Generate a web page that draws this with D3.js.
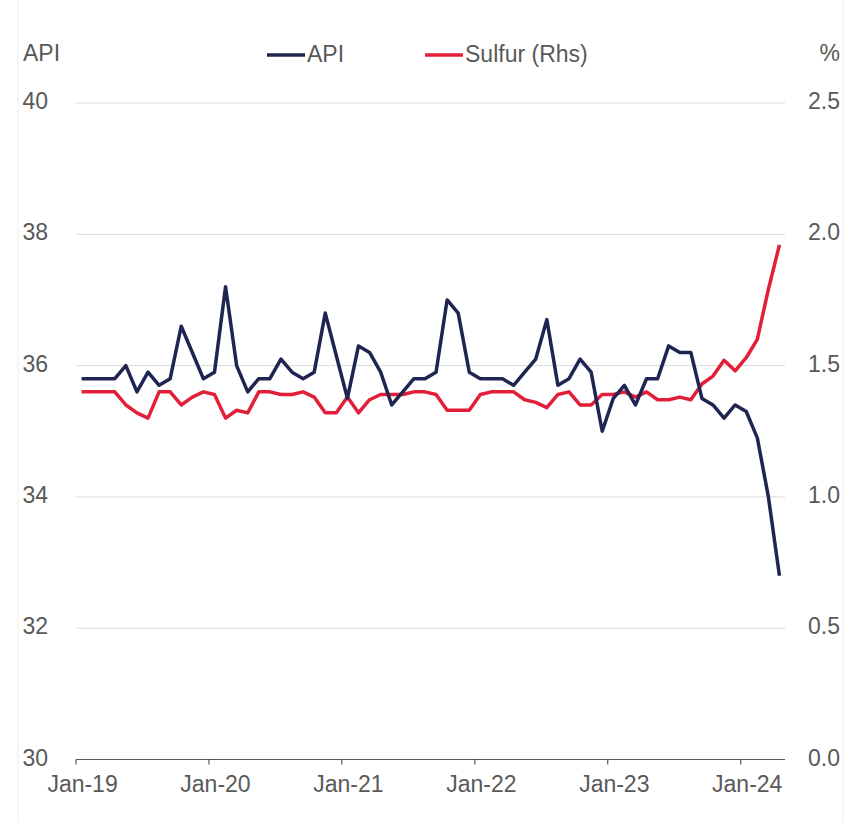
<!DOCTYPE html>
<html>
<head>
<meta charset="utf-8">
<script src="https://cdn.jsdelivr.net/npm/d3@7"></script>
<style>
  body { margin: 0; background: #fff; }
  text { font-family: "Liberation Sans", Arial, sans-serif; fill: #595959; }
</style>
</head>
<body>
<div id="container"></div>
<script>
// Monthly series, Jan-19 .. Apr-24
var startMonth = new Date(2019, 0, 1)
var apiValues = [
  35.8, 35.8, 35.8, 35.8, 36.0, 35.6, 35.9, 35.7, 35.8, 36.6, 36.2, 35.8,
  35.9, 37.2, 36.0, 35.6, 35.8, 35.8, 36.1, 35.9, 35.8, 35.9, 36.8, 36.15,
  35.5, 36.3, 36.2, 35.9, 35.4, 35.6, 35.8, 35.8, 35.9, 37.0, 36.8, 35.9,
  35.8, 35.8, 35.8, 35.7, 35.9, 36.1, 36.7, 35.7, 35.8, 36.1, 35.9, 35.0,
  35.5, 35.7, 35.4, 35.8, 35.8, 36.3, 36.2, 36.2, 35.5, 35.4, 35.2, 35.4,
  35.3, 34.9, 34.0, 32.8
]
var sulfurValues = [
  1.40, 1.40, 1.40, 1.40, 1.35, 1.32, 1.30, 1.40, 1.40, 1.35, 1.38, 1.40,
  1.39, 1.30, 1.33, 1.32, 1.40, 1.40, 1.39, 1.39, 1.40, 1.38, 1.32, 1.32,
  1.38, 1.32, 1.37, 1.39, 1.39, 1.39, 1.40, 1.40, 1.39, 1.33, 1.33, 1.33,
  1.39, 1.40, 1.40, 1.40, 1.37, 1.36, 1.34, 1.39, 1.40, 1.35, 1.35, 1.39,
  1.39, 1.40, 1.38, 1.40, 1.37, 1.37, 1.38, 1.37, 1.43, 1.46, 1.52, 1.48,
  1.53, 1.60, 1.79, 1.96
]
var leftTicks = [30, 32, 34, 36, 38, 40]
var rightTicks = [0.0, 0.5, 1.0, 1.5, 2.0, 2.5]
var seriesNames = ["API", "Sulfur (Rhs)"]
var seriesColors = ["#1f2552", "#e31e38"]

var width = 854, height = 822
var plot = { left: 76, right: 785, top: 103, bottom: 759.5 }

var months = apiValues.map(function(d, i) {
  return d3.timeMonth.offset(startMonth, i)
})
var fmt = d3.timeFormat("%b-%y")

var svg = d3.select("#container")
  .append("svg")
  .attr("width", width)
  .attr("height", height)

// faint frame lines
svg.selectAll(".frame")
  .data([18, 843])
  .enter().append("line")
  .attr("x1", function(d) { return d }).attr("x2", function(d) { return d })
  .attr("y1", 0).attr("y2", height)
  .attr("stroke", "#ececec").attr("stroke-width", 1)

// Escalas
var x = d3.scaleBand()
  .domain(months)
  .range([plot.left, plot.right])

var yLeft = d3.scaleLinear()
  .domain([30, 40])
  .range([plot.bottom, plot.top])

var yRight = d3.scaleLinear()
  .domain([0, 2.5])
  .range([plot.bottom, plot.top])

// gridlines
svg.selectAll(".grid")
  .data(leftTicks.filter(function(d) { return d > 30 }))
  .enter().append("line")
  .attr("x1", plot.left).attr("x2", plot.right)
  .attr("y1", function(d) { return yLeft(d) })
  .attr("y2", function(d) { return yLeft(d) })
  .attr("stroke", "#d9d9d9").attr("stroke-width", 1)

// left labels
svg.selectAll(".left-label")
  .data(leftTicks)
  .enter().append("text")
  .attr("x", 48)
  .attr("y", function(d) { return yLeft(d) + 6 })
  .attr("text-anchor", "end")
  .attr("font-size", 23)
  .text(function(d) { return d })

// right labels
svg.selectAll(".right-label")
  .data(rightTicks)
  .enter().append("text")
  .attr("x", 840)
  .attr("y", function(d) { return yRight(d) + 6 })
  .attr("text-anchor", "end")
  .attr("font-size", 23)
  .text(function(d) { return d.toFixed(1) })

// x axis
var janMonths = months.filter(function(d) { return d.getMonth() === 0 })

svg.append("line")
  .attr("x1", plot.left).attr("x2", plot.right)
  .attr("y1", plot.bottom).attr("y2", plot.bottom)
  .attr("stroke", "#595959").attr("stroke-width", 1.2)

svg.selectAll(".xtick")
  .data(janMonths)
  .enter().append("line")
  .attr("x1", function(d) { return x(d) }).attr("x2", function(d) { return x(d) })
  .attr("y1", plot.bottom).attr("y2", plot.bottom + 5)
  .attr("stroke", "#595959").attr("stroke-width", 1.2)

svg.selectAll(".xlabel")
  .data(janMonths)
  .enter().append("text")
  .attr("x", function(d) { return x(d) + x.bandwidth() / 2 + 1 })
  .attr("y", 792)
  .attr("text-anchor", "middle")
  .attr("font-size", 23)
  .text(function(d) { return fmt(d) })

// linhas
var apiLine = d3.line()
  .x(function(d, i) { return x(months[i]) + x.bandwidth() / 2 })
  .y(function(d) { return yLeft(d) })

var sulfurLine = d3.line()
  .x(function(d, i) { return x(months[i]) + x.bandwidth() / 2 })
  .y(function(d) { return yRight(d) })

svg.append("path")
  .datum(sulfurValues)
  .attr("d", sulfurLine)
  .attr("fill", "none")
  .attr("stroke", seriesColors[1])
  .attr("stroke-width", 3.5)
  .attr("stroke-linejoin", "round")

svg.append("path")
  .datum(apiValues)
  .attr("d", apiLine)
  .attr("fill", "none")
  .attr("stroke", seriesColors[0])
  .attr("stroke-width", 3.5)
  .attr("stroke-linejoin", "round")

// axis titles
svg.append("text")
  .attr("x", 23).attr("y", 61)
  .attr("font-size", 23)
  .text("API")

svg.append("text")
  .attr("x", 840).attr("y", 61)
  .attr("text-anchor", "end")
  .attr("font-size", 23)
  .text("%")

// legenda
var legendX = [267, 425]
seriesNames.forEach(function(name, i) {
  svg.append("line")
    .attr("x1", legendX[i]).attr("x2", legendX[i] + 38)
    .attr("y1", 55).attr("y2", 55)
    .attr("stroke", seriesColors[i])
    .attr("stroke-width", 3.5)
  svg.append("text")
    .attr("x", legendX[i] + 40).attr("y", 62)
    .attr("font-size", 23)
    .text(name)
})
</script>
</body>
</html>
